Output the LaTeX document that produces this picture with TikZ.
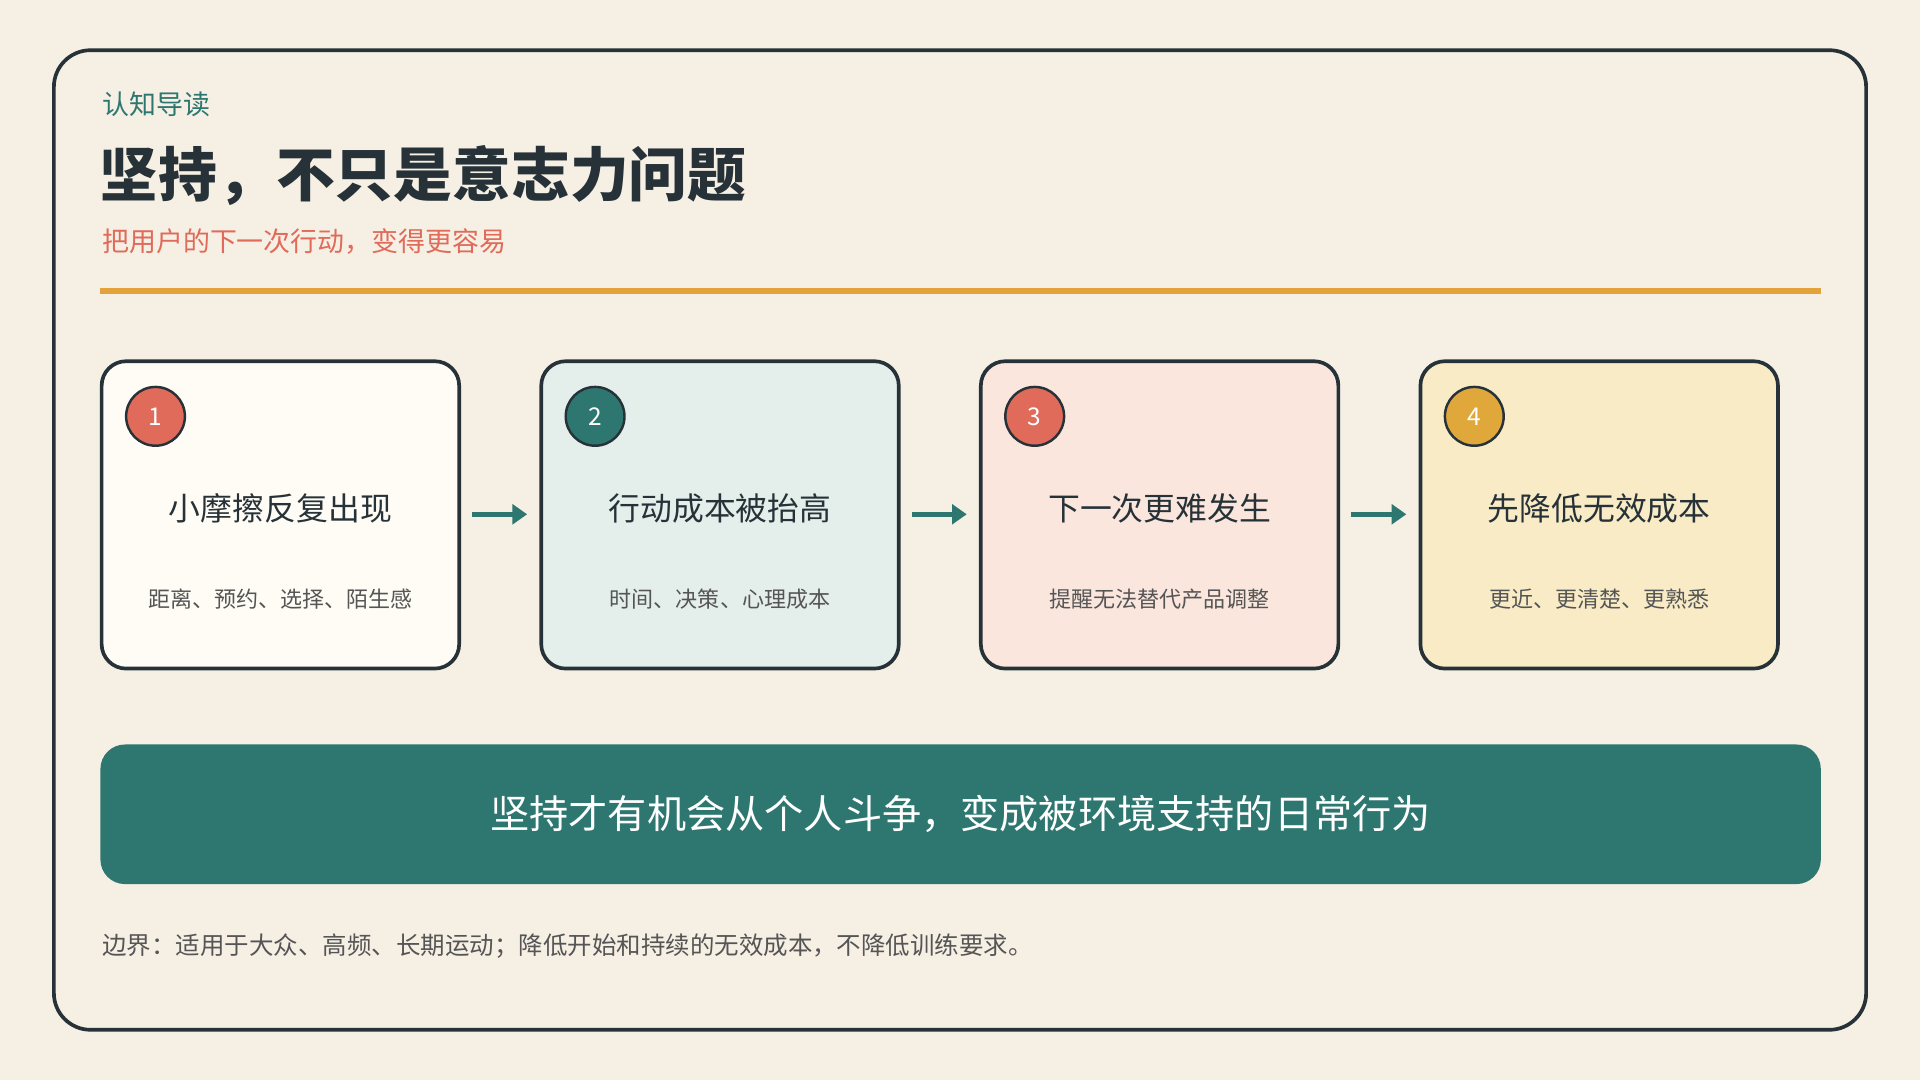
\documentclass[tikz,border=0pt]{standalone}
\usepackage{fontspec}
\setmainfont{Noto Sans CJK SC}
\usetikzlibrary{arrows.meta}
\definecolor{bg}{HTML}{F6EFE4}
\definecolor{ink}{HTML}{263238}
\definecolor{teal}{HTML}{2E7771}
\definecolor{coral}{HTML}{E06B5A}
\definecolor{gold}{HTML}{E0A83A}
\definecolor{rule}{HTML}{E3A33A}
\definecolor{fa}{HTML}{FFFCF5}
\definecolor{fb}{HTML}{E4EEEA}
\definecolor{fc}{HTML}{FAE6DD}
\definecolor{fd}{HTML}{F8EBC6}
\definecolor{sub}{HTML}{555555}
\begin{document}
\begin{tikzpicture}[x=1pt,y=-1pt,
 card/.style={draw=ink,line width=3pt,rounded corners=20pt,minimum width=292pt,minimum height=251pt,inner sep=0pt},
 num/.style={circle,draw=ink,line width=2pt,minimum size=48pt,inner sep=0pt,text=white,font=\fontsize{20}{20}\selectfont},
 head/.style={text=ink,font=\fontsize{26}{26}\selectfont},
 small/.style={text=sub,font=\fontsize{18}{18}\selectfont},
 arr/.style={draw=teal,line width=4pt,-{Triangle[length=12pt,width=16pt]}}]
\fill[bg] (0,0) rectangle (1568,882);
\draw[ink,line width=3pt,rounded corners=30pt] (44,41) rectangle (1524,841);
\node[anchor=west,text=teal,font=\fontsize{22}{22}\selectfont] (k) at (80,85) {认知导读};
\node[anchor=west,text=ink,font=\bfseries\fontsize{48}{48}\selectfont] (t) at (78,143) {坚持，不只是意志力问题};
\node[anchor=west,text=coral,font=\fontsize{22}{22}\selectfont] (s) at (80,197) {把用户的下一次行动，变得更容易};
\draw[rule,line width=5pt] (82,238) -- (1487,238);
\foreach \i/\x/\f/\c/\h/\d in {1/229/fa/coral/小摩擦反复出现/距离、预约、选择、陌生感,
 2/588/fb/teal/行动成本被抬高/时间、决策、心理成本,
 3/947/fc/coral/下一次更难发生/提醒无法替代产品调整,
 4/1306/fd/gold/先降低无效成本/更近、更清楚、更熟悉}{
 \node[card,fill=\f] (b\i) at (\x,420.5) {};
 \node[num,fill=\c] (n\i) at (\x-102,340) {\i};
 \node[head] (h\i) at (\x,415) {\h};
 \node[small] (d\i) at (\x,489) {\d};
}
\foreach \a/\b in {1/2,2/3,3/4}{\draw[arr] ([xshift=9pt,yshift=0.5pt]b\a.east) -- ([xshift=-10pt,yshift=0.5pt]b\b.west);}
\node[fill=teal,rounded corners=20pt,minimum width=1405pt,minimum height=114pt,inner sep=0pt,text=white,font=\fontsize{32}{32}\selectfont] (ban) at (784.5,665) {坚持才有机会从个人斗争，变成被环境支持的日常行为};
\node[anchor=west,text=sub,font=\fontsize{20}{20}\selectfont] (f) at (80,773) {边界：适用于大众、高频、长期运动；降低开始和持续的无效成本，不降低训练要求。};
\end{tikzpicture}
\end{document}
